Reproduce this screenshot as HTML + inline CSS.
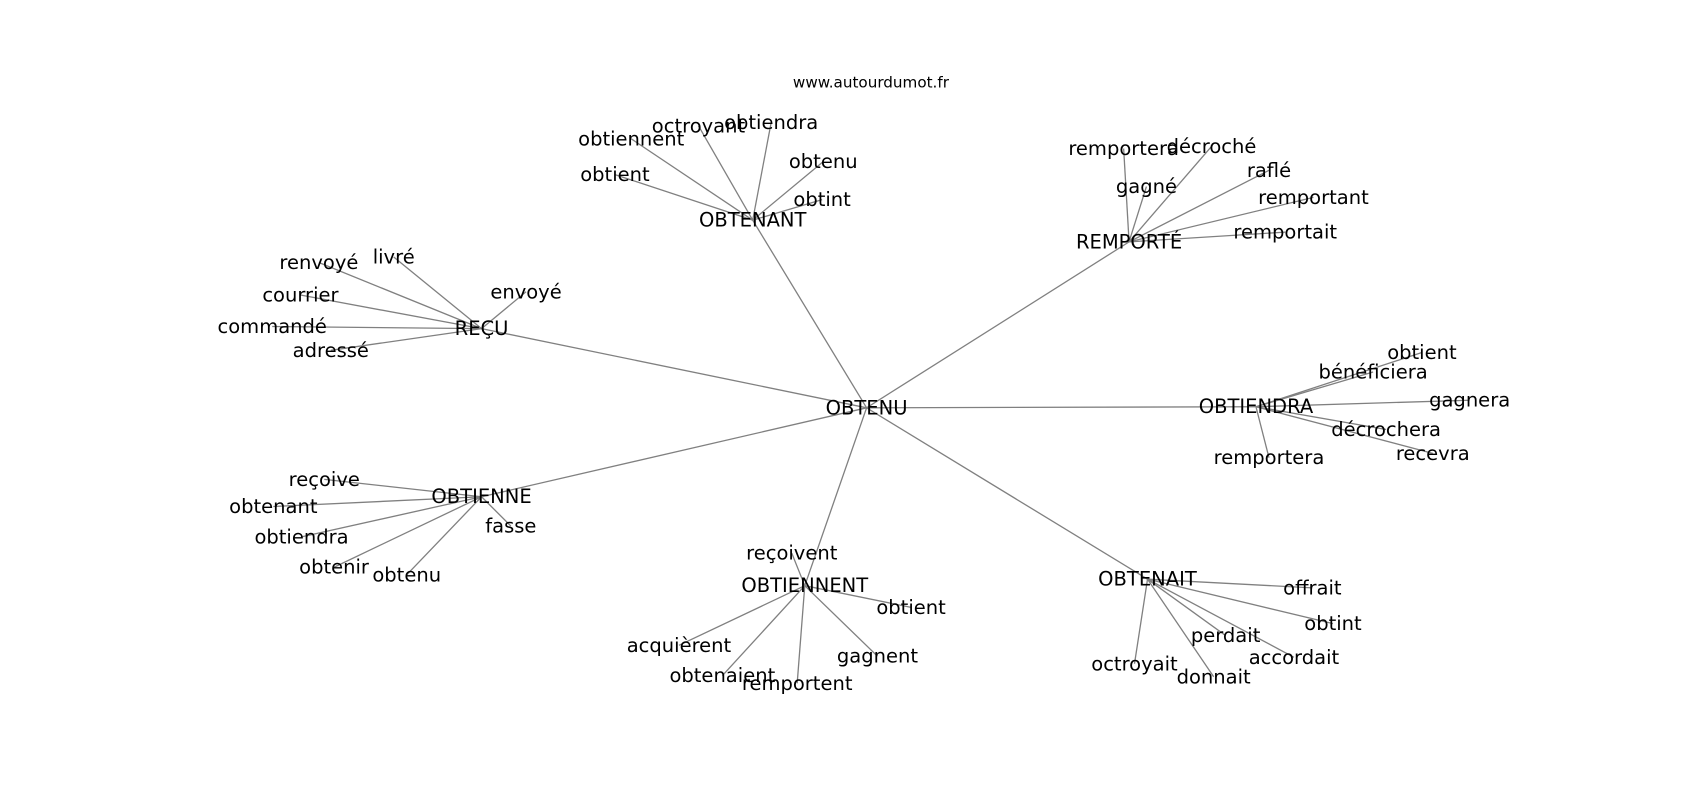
<!DOCTYPE html>
<html><head><meta charset="utf-8"><style>
html,body{margin:0;padding:0;background:#fff;}
svg{display:block}
text{font-family:"DejaVu Sans","Liberation Sans",sans-serif;font-size:18px;fill:#000;text-anchor:middle;dominant-baseline:central}
line{stroke:#808080;stroke-width:1.2}
</style></head><body>
<svg width="1700" height="800" viewBox="0 0 1700 800" xmlns="http://www.w3.org/2000/svg">
<g transform="scale(1.0846)">
<g id="edges"></g>
<g id="labels"></g>
<text x="803" y="76" style="font-size:14px">www.autourdumot.fr</text>
</g>
</svg>
<script>
var hubs={
"OBTENU":[799,376],
"OBTENANT":[694,203],"REMPORTÉ":[1041,223],"REÇU":[444,303],"OBTIENDRA":[1158,375],
"OBTIENNE":[444,458],"OBTIENNENT":[742,540],"OBTENAIT":[1058,534]};
var kids={
"OBTENANT":[["obtiennent",582,128],["octroyant",644,116],["obtiendra",711,113],["obtenu",759,149],["obtint",758,184],["obtient",567,161]],
"REMPORTÉ":[["remportera",1036,137],["décroché",1117,135],["gagné",1057,172],["raflé",1170,157],["remportant",1211,182],["remportait",1185,214]],
"REÇU":[["renvoyé",294,242],["livré",363,237],["envoyé",485,269],["courrier",277,272],["commandé",251,301],["adressé",305,323]],
"OBTIENDRA":[["obtient",1311,325],["bénéficiera",1266,343],["gagnera",1355,369],["décrochera",1278,396],["recevra",1321,418],["remportera",1170,422]],
"OBTIENNE":[["reçoive",299,442],["obtenant",252,467],["obtiendra",278,495],["obtenir",308,523],["obtenu",375,530],["fasse",471,485]],
"OBTIENNENT":[["reçoivent",730,510],["obtient",840,560],["acquièrent",626,595],["obtenaient",666,623],["remportent",735,630],["gagnent",809,605]],
"OBTENAIT":[["offrait",1210,542],["obtint",1229,575],["perdait",1130,586],["accordait",1193,606],["octroyait",1046,612],["donnait",1119,624]]};
var NS="http://www.w3.org/2000/svg",E=document.getElementById("edges"),L=document.getElementById("labels");
function ln(a,b){var l=document.createElementNS(NS,"line");l.setAttribute("x1",a[0]);l.setAttribute("y1",a[1]);l.setAttribute("x2",b[0]);l.setAttribute("y2",b[1]);E.appendChild(l);}
function tx(s,x,y){var t=document.createElementNS(NS,"text");t.setAttribute("x",x);t.setAttribute("y",y);t.textContent=s;L.appendChild(t);}
for(var h in hubs){ if(h!="OBTENU") ln(hubs.OBTENU,hubs[h]); tx(h,hubs[h][0],hubs[h][1]);}
for(var h in kids){kids[h].forEach(function(k){ln(hubs[h],[k[1],k[2]]);tx(k[0],k[1],k[2]);});}
</script>
</body></html>
